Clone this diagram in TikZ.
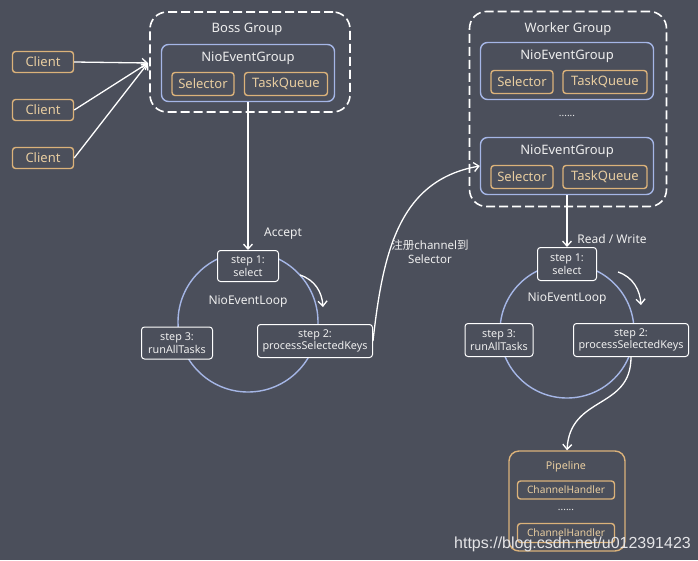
\documentclass[tikz,border=0pt]{standalone}
\usepackage{fontspec}
\setmainfont{Noto Sans}
\newfontfamily\cjk{Noto Sans CJK SC}
\newfontfamily\urlfont{Liberation Sans}
\usetikzlibrary{arrows.meta}
\definecolor{bg}{RGB}{75,79,91}
\definecolor{tan}{RGB}{219,178,122}
\definecolor{tantext}{RGB}{232,205,160}
\definecolor{evblue}{RGB}{165,182,230}
\definecolor{txt}{RGB}{238,238,238}
\tikzset{
  group/.style={draw=white, line width=1.6pt, dash pattern=on 9pt off 4pt, rounded corners=17pt},
  evgroup/.style={draw=evblue, line width=1.4pt, rounded corners=7pt},
  tanbox/.style={draw=tan, line width=1.4pt, rounded corners=3pt, text=tantext, inner sep=0pt},
  stepbox/.style={draw=white, line width=1pt, fill=bg, rounded corners=3pt, align=center,
    font=\fontsize{10.8}{12.5}\selectfont, inner sep=0pt},
  flow/.style={draw=white, line width=1.3pt, -{Straight Barb[length=5pt,width=9pt]}},
  big/.style={font=\fontsize{13}{15}\selectfont},
}

\begin{document}
\begin{tikzpicture}[x=1pt, y=-1pt, text=txt, font=\fontsize{12}{14}\selectfont]
  \fill[bg] (0,0) rectangle (698,560);
  \useasboundingbox (0,0) rectangle (698,560);
  % boss group
  \node[group, minimum width=200, minimum height=100] (boss) at (250,62) {};
  \node[big] at (247,29) {Boss Group};
  \node[evgroup, minimum width=173, minimum height=57] (bossev) at (248,73) {};
  \node[big] at (248,58) {NioEventGroup};
  \node[tanbox, big, minimum width=62, minimum height=23] (bsel) at (203,84) {Selector};
  \node[tanbox, big, minimum width=83, minimum height=23] (btq) at (286,84) {TaskQueue};
  % clients
  \coordinate (bossin) at (148,63);
  \foreach \i/\y in {1/62,2/110,3/158} {
    \node[tanbox, big, minimum width=61, minimum height=21] (c\i) at (43,\y) {Client};
    \draw[flow] (c\i.east) -- (bossin);
  }
  % worker group
  \node[group, minimum width=197, minimum height=195] (worker) at (568,109) {};
  \node[big] at (568,29) {Worker Group};
  \foreach \n/\y in {1/71,2/166} {
    \node[evgroup, minimum width=173, minimum height=57] (w\n) at (567,\y) {};
    \node[big] at (567,\y-15) {NioEventGroup};
    \node[tanbox, big, minimum width=62, minimum height=23] (wsel\n) at (522,\y+11) {Selector};
    \node[tanbox, big, minimum width=84, minimum height=23] (wtq\n) at (605,\y+11) {TaskQueue};
  }
  \node[font=\fontsize{10}{12}\selectfont] (wdots) at (567,116) {......};
  % boss event loop
  \draw[evblue, line width=1.4pt] (248,322) circle (70);
  \node[stepbox, minimum width=61, minimum height=31] (l1) at (248,266) {step 1:\\select};
  \node at (248,302) {NioEventLoop};
  \node[stepbox, minimum width=71, minimum height=32] (l3) at (177,343) {step 3:\\runAllTasks};
  \node[stepbox, minimum width=115, minimum height=33] (l2) at (315,341) {step 2:\\processSelectedKeys};
  \draw[flow] (bossev.south) -- (l1.north);
  \node at (283,234) {Accept};
  \coordinate (la) at (300,275);
  \coordinate (lb) at (323,307);
  \draw[flow] (la) .. controls (315,280) and (322,292) .. (lb);
  % worker event loop
  \draw[evblue, line width=1.4pt] (567,331) circle (67);
  \node[stepbox, minimum width=59, minimum height=33] (r1) at (567,264) {step 1:\\select};
  \node at (567,299) {NioEventLoop};
  \node[stepbox, minimum width=68, minimum height=33] (r3) at (499,340) {step 3:\\runAllTasks};
  \node[stepbox, minimum width=115, minimum height=33] (r2) at (631,340) {step 2:\\processSelectedKeys};
  \draw[flow] (w2.south) -- (r1.north);
  \node at (612,239) {Read / Write};
  \coordinate (ra) at (618,272);
  \coordinate (rb) at (641,305);
  \draw[flow] (ra) .. controls (633,277) and (640,290) .. (rb);
  % register channel
  \draw[flow] (l2.east) .. controls (383,250) and (400,180) .. (w2.west);
  \node[align=center, font=\fontsize{11.5}{14}\selectfont] at (430,252) {{\cjk 注册}channel{\cjk 到}\\Selector};
  % pipeline
  \node[draw=tan, line width=1.4pt, rounded corners=10pt, minimum width=116, minimum height=100] (pipe) at (567,501) {};
  \node[text=tantext, font=\fontsize{10.7}{12}\selectfont] at (566,467) {Pipeline};
  \node[tanbox, font=\fontsize{10.2}{12}\selectfont, minimum width=97, minimum height=18] (h1) at (566,490) {ChannelHandler};
  \node[font=\fontsize{10}{12}\selectfont] (pdots) at (566,510) {......};
  \node[tanbox, font=\fontsize{10.2}{12}\selectfont, minimum width=97, minimum height=19] (h2) at (566,533) {ChannelHandler};
  \draw[flow] (r2.south) .. controls (631,410) and (570,395) .. (pipe.north);
  % watermark
  \node[anchor=base west, inner sep=0pt, text=white!85!bg, font=\urlfont\fontsize{16}{16}\selectfont] (wm) at (454,548) {https://blog.csdn.net/u012391423};
\end{tikzpicture}
\end{document}
